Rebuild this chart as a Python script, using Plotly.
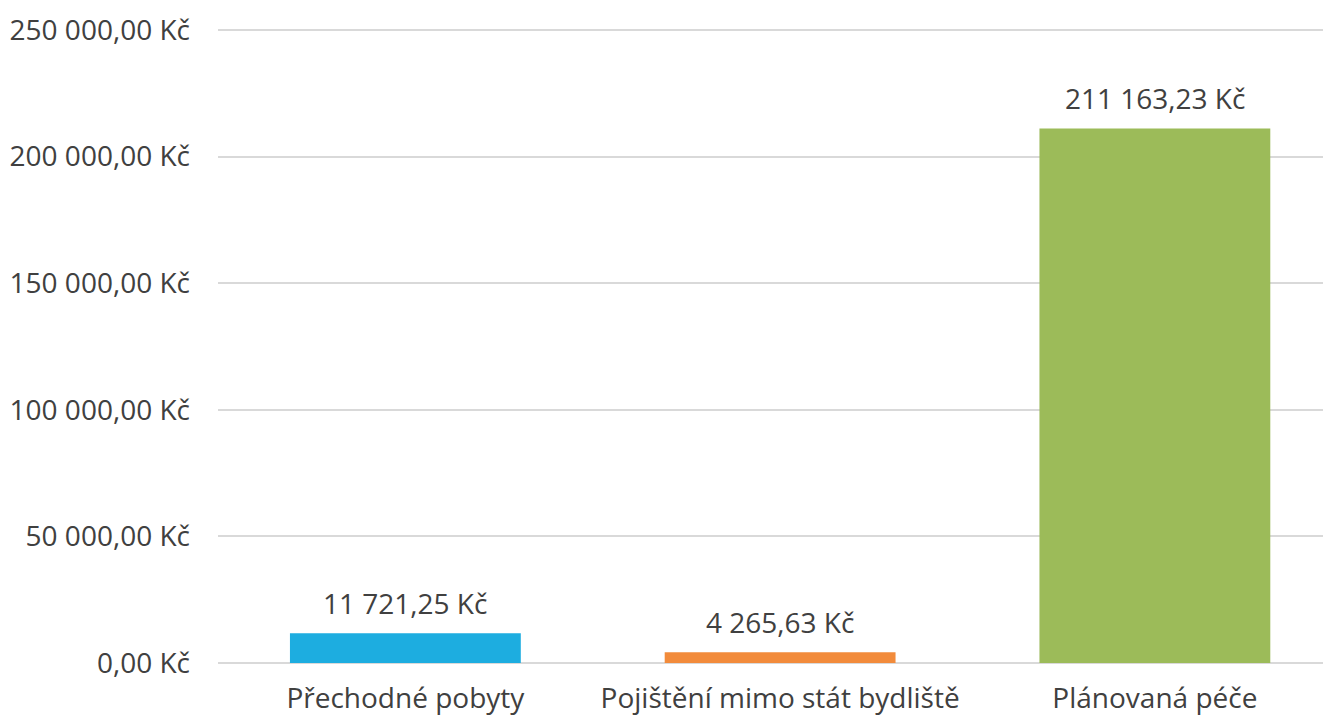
import plotly.graph_objects as go

categories = ["Přechodné pobyty", "Pojištění mimo stát bydliště", "Plánovaná péče"]
values = [11721.25, 4265.63, 211163.23]
colors = ["#1DADE0", "#F28B3B", "#9CBB59"]
tick_vals = [0, 50000, 100000, 150000, 200000, 250000]

def fmt(v):
    s = f"{v:,.2f}"
    s = s.replace(",", " ").replace(".", ",")
    return s + " Kč"

FONT = "Open Sans"
SIZE = 28
COLOR = "#404040"

fig = go.Figure()
fig.add_trace(go.Bar(
    x=categories, y=values, marker=dict(color=colors, line=dict(width=0)),
    hoverinfo="skip",
))

for c, v in zip(categories, values):
    fig.add_annotation(x=c, y=v, text=fmt(v), showarrow=False,
                       yanchor="middle", yshift=30,
                       font=dict(family=FONT, size=SIZE, color=COLOR))

fig.update_layout(
    width=1323, height=710,
    margin=dict(l=210, r=0, t=17, b=55),
    paper_bgcolor="white", plot_bgcolor="white",
    bargap=0.384,
    separators=", ",
    showlegend=False,
    font=dict(family=FONT, size=SIZE, color=COLOR),
)
fig.update_xaxes(range=[-0.5, 2.47], showgrid=False, showline=False,
                 ticks="", ticklabelstandoff=16, automargin=False,
                 tickfont=dict(family=FONT, size=SIZE, color=COLOR))
fig.update_yaxes(range=[0, 252000], tickvals=tick_vals,
                 ticktext=[fmt(t) for t in tick_vals],
                 showgrid=True, gridcolor="#D9D9D9", gridwidth=1.5,
                 zeroline=True, zerolinecolor="#D9D9D9", zerolinewidth=1.5,
                 showline=False, ticks="", ticklabelstandoff=27, automargin=False,
                 tickfont=dict(family=FONT, size=SIZE, color=COLOR))

fig.write_html("out.html")
